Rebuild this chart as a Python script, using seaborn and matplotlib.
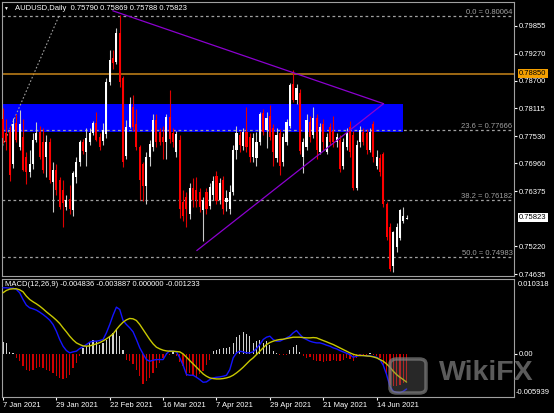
import numpy as np
import matplotlib
matplotlib.use("Agg")
import matplotlib.pyplot as plt
import matplotlib.transforms as mtransforms
from matplotlib.patches import Rectangle, FancyBboxPatch
import seaborn as sns

# ---------------- data ----------------
open_ = [0.7790, 0.7760, 0.7762, 0.7694, 0.7782, 0.7731, 0.7752, 0.7710, 0.7677, 0.7694,
         0.7746, 0.7763, 0.7740, 0.7710, 0.7742, 0.7658, 0.7683, 0.7662, 0.7640, 0.7604,
         0.7622, 0.7598, 0.7668, 0.7698, 0.7740, 0.7720, 0.7742, 0.7761, 0.7780, 0.7752,
         0.7743, 0.7757, 0.7868, 0.7918, 0.7910, 0.7970, 0.7876, 0.7712, 0.7773, 0.7815,
         0.7778, 0.7730, 0.7694, 0.7648, 0.7710, 0.7731, 0.7788, 0.7763, 0.7752, 0.7742,
         0.7794, 0.7760, 0.7719, 0.7746, 0.7615, 0.7625, 0.7590, 0.7645, 0.7640, 0.7635,
         0.7598, 0.7637, 0.7607, 0.7630, 0.7670, 0.7620, 0.7662, 0.7615, 0.7600, 0.7637,
         0.7725, 0.7756, 0.7733, 0.7762, 0.7752, 0.7710, 0.7708, 0.7740, 0.7803, 0.7767,
         0.7795, 0.7770, 0.7708, 0.7761, 0.7700, 0.7742, 0.7775, 0.7862, 0.7830, 0.7845,
         0.7710, 0.7731, 0.7784, 0.7756, 0.7792, 0.7721, 0.7778, 0.7721, 0.7773, 0.7765,
         0.7740, 0.7745, 0.7690, 0.7731, 0.7773, 0.7756, 0.7645, 0.7740, 0.7763, 0.7761,
         0.7725, 0.7778, 0.7690, 0.7708, 0.7715, 0.7610, 0.7563, 0.7480, 0.7520, 0.7540,
         0.7576, 0.75790]
high = [0.7812, 0.7790, 0.7775, 0.7792, 0.7800, 0.7809, 0.7790, 0.7720, 0.7725, 0.7761,
        0.7784, 0.7775, 0.7770, 0.7755, 0.7750, 0.7698, 0.7695, 0.7668, 0.7662, 0.7630,
        0.7650, 0.7680, 0.7710, 0.7745, 0.7748, 0.7770, 0.7770, 0.7785, 0.7805, 0.7760,
        0.7780, 0.7875, 0.7935, 0.7935, 0.7980, 0.8007, 0.7880, 0.7788, 0.7836, 0.7840,
        0.7810, 0.7735, 0.7700, 0.7720, 0.7745, 0.7800, 0.7800, 0.7770, 0.7775, 0.7800,
        0.7850, 0.7770, 0.7765, 0.7756, 0.7640, 0.7637, 0.7655, 0.7665, 0.7668, 0.7645,
        0.7625, 0.7645, 0.7655, 0.7670, 0.7680, 0.7665, 0.7670, 0.7640, 0.7650, 0.7735,
        0.7775, 0.7765, 0.7770, 0.7815, 0.7760, 0.7760, 0.7762, 0.7805, 0.7810, 0.7805,
        0.7818, 0.7778, 0.7770, 0.7768, 0.7760, 0.7790, 0.7865, 0.7893, 0.7862, 0.7852,
        0.7750, 0.7800, 0.7795, 0.7815, 0.7800, 0.7780, 0.7790, 0.7760, 0.7780, 0.7795,
        0.7760, 0.7755, 0.7750, 0.7770, 0.7785, 0.7765, 0.7745, 0.7775, 0.7770, 0.7768,
        0.7770, 0.7785, 0.7725, 0.7715, 0.7720, 0.7615, 0.7570, 0.7555, 0.7570, 0.7601,
        0.7605, 0.75869]
low = [0.7738, 0.7725, 0.7660, 0.7687, 0.7740, 0.7725, 0.7680, 0.7652, 0.7668, 0.7685,
       0.7740, 0.7705, 0.7675, 0.7668, 0.7655, 0.7593, 0.7630, 0.7600, 0.7563, 0.7599,
       0.7590, 0.7585, 0.7655, 0.7690, 0.7715, 0.7690, 0.7735, 0.7755, 0.7743, 0.7725,
       0.7735, 0.7750, 0.7860, 0.7895, 0.7905, 0.7857, 0.7689, 0.7705, 0.7770, 0.7765,
       0.7725, 0.7620, 0.7618, 0.7610, 0.7690, 0.7722, 0.7730, 0.7735, 0.7705, 0.7705,
       0.7738, 0.7730, 0.7710, 0.7582, 0.7575, 0.7563, 0.7580, 0.7605, 0.7605, 0.7593,
       0.7532, 0.7590, 0.7600, 0.7620, 0.7610, 0.7610, 0.7590, 0.7595, 0.7590, 0.7630,
       0.7705, 0.7720, 0.7725, 0.7720, 0.7700, 0.7700, 0.7690, 0.7735, 0.7755, 0.7729,
       0.7745, 0.7690, 0.7700, 0.7672, 0.7690, 0.7735, 0.7770, 0.7825, 0.7820, 0.7715,
       0.7676, 0.7725, 0.7740, 0.7750, 0.7705, 0.7715, 0.7725, 0.7715, 0.7735, 0.7730,
       0.7730, 0.7678, 0.7685, 0.7725, 0.7710, 0.7640, 0.7640, 0.7730, 0.7735, 0.7715,
       0.7720, 0.7700, 0.7685, 0.7670, 0.7605, 0.7535, 0.7470, 0.7468, 0.7510, 0.7535,
       0.7570, 0.75788]
close = [0.7750, 0.7740, 0.7672, 0.7778, 0.7746, 0.7778, 0.7683, 0.7677, 0.7694, 0.7746,
         0.7761, 0.7710, 0.7683, 0.7742, 0.7662, 0.7683, 0.7641, 0.7605, 0.7612, 0.7620,
         0.7600, 0.7675, 0.7698, 0.7740, 0.7722, 0.7750, 0.7761, 0.7780, 0.7746, 0.7731,
         0.7767, 0.7868, 0.7914, 0.7908, 0.7970, 0.7867, 0.7700, 0.7772, 0.7820, 0.7773,
         0.7730, 0.7662, 0.7648, 0.7710, 0.7736, 0.7788, 0.7742, 0.7742, 0.7742, 0.7794,
         0.7748, 0.7742, 0.7757, 0.7600, 0.7585, 0.7600, 0.7645, 0.7620, 0.7620, 0.7605,
         0.7620, 0.7600, 0.7647, 0.7660, 0.7616, 0.7654, 0.7600, 0.7624, 0.7637, 0.7725,
         0.7761, 0.7735, 0.7763, 0.7730, 0.7710, 0.7750, 0.7742, 0.7799, 0.7763, 0.7792,
         0.7752, 0.7719, 0.7756, 0.7690, 0.7752, 0.7784, 0.7860, 0.7830, 0.7855, 0.7722,
         0.7740, 0.7788, 0.7752, 0.7792, 0.7725, 0.7773, 0.7740, 0.7752, 0.7740, 0.7740,
         0.7752, 0.7685, 0.7742, 0.7761, 0.7719, 0.7645, 0.7735, 0.7767, 0.7740, 0.7725,
         0.7763, 0.7710, 0.7710, 0.7677, 0.7610, 0.7542, 0.7475, 0.7551, 0.7563, 0.7598,
         0.7586, 0.75823]

macd_line = [0.00911, 0.00911, 0.00906, 0.00906, 0.00888, 0.00842, 0.00750, 0.00672, 0.00635, 0.00621,
             0.00603, 0.00575, 0.00543, 0.00506, 0.00465, 0.00405, 0.00313, 0.00198, 0.00106, 0.00046,
             0.00014, 0.00028, 0.00037, 0.00074, 0.00097, 0.00129, 0.00161, 0.00175, 0.00175, 0.00184,
             0.00198, 0.00290, 0.00405, 0.00534, 0.00644, 0.00612, 0.00460, 0.00405, 0.00359, 0.00304,
             0.00198, 0.00083, 0.00000, -0.00078, -0.00101, -0.00087, -0.00078, -0.00078, -0.00078, 0.00000,
             0.00046, 0.00037, 0.00028, -0.00055, -0.00156, -0.00285, -0.00294, -0.00294, -0.00322, -0.00354,
             -0.00391, -0.00386, -0.00354, -0.00331, -0.00322, -0.00317, -0.00308, -0.00294, -0.00216, -0.00055,
             0.00014, 0.00037, 0.00028, 0.00014, 0.00014, 0.00028, 0.00074, 0.00129, 0.00198, 0.00230,
             0.00244, 0.00198, 0.00175, 0.00175, 0.00198, 0.00221, 0.00244, 0.00290, 0.00322, 0.00267,
             0.00221, 0.00198, 0.00175, 0.00161, 0.00152, 0.00152, 0.00138, 0.00120, 0.00106, 0.00083,
             0.00069, 0.00046, 0.00028, 0.00009, -0.00009, -0.00046, -0.00032, -0.00018, -0.00023, -0.00028,
             -0.00028, -0.00037, -0.00046, -0.00078, -0.00156, -0.00285, -0.00446, -0.00515, -0.00530, -0.00535,
             -0.00515, -0.004836]
signal_line = [0.00842, 0.00874, 0.00892, 0.00897, 0.00897, 0.00883, 0.00856, 0.00796, 0.00750, 0.00718,
               0.00690, 0.00658, 0.00621, 0.00580, 0.00543, 0.00506, 0.00465, 0.00419, 0.00359, 0.00304,
               0.00244, 0.00193, 0.00152, 0.00129, 0.00110, 0.00106, 0.00110, 0.00124, 0.00138, 0.00156,
               0.00179, 0.00207, 0.00239, 0.00276, 0.00336, 0.00391, 0.00437, 0.00469, 0.00488, 0.00483,
               0.00460, 0.00405, 0.00336, 0.00267, 0.00198, 0.00138, 0.00092, 0.00069, 0.00051, 0.00041,
               0.00037, 0.00037, 0.00032, 0.00028, 0.00000, -0.00046, -0.00092, -0.00138, -0.00184, -0.00230,
               -0.00276, -0.00308, -0.00331, -0.00340, -0.00345, -0.00345, -0.00340, -0.00331, -0.00317, -0.00294,
               -0.00262, -0.00225, -0.00184, -0.00138, -0.00092, -0.00055, -0.00009, 0.00037, 0.00083, 0.00129,
               0.00156, 0.00175, 0.00189, 0.00198, 0.00202, 0.00212, 0.00221, 0.00230, 0.00230, 0.00230,
               0.00225, 0.00221, 0.00221, 0.00225, 0.00221, 0.00202, 0.00184, 0.00166, 0.00147, 0.00129,
               0.00106, 0.00083, 0.00060, 0.00037, 0.00014, -0.00005, -0.00018, -0.00023, -0.00023, -0.00028,
               -0.00032, -0.00041, -0.00055, -0.00078, -0.00101, -0.00138, -0.00184, -0.00239, -0.00285, -0.00322,
               -0.00354, -0.003887]
histogram = [0.00166, 0.00152, 0.00028, 0.00014, -0.00055, -0.00101, -0.00170, -0.00216, -0.00239, -0.00216,
             -0.00193, -0.00184, -0.00193, -0.00216, -0.00239, -0.00262, -0.00308, -0.00331, -0.00345, -0.00331,
             -0.00285, -0.00193, -0.00124, -0.00032, 0.00083, 0.00106, 0.00152, 0.00198, 0.00175, 0.00129,
             0.00152, 0.00198, 0.00244, 0.00290, 0.00336, 0.00244, 0.00060, -0.00078, -0.00101, -0.00138,
             -0.00216, -0.00308, -0.00414, -0.00377, -0.00331, -0.00262, -0.00193, -0.00124, -0.00055, 0.00014,
             -0.00018, 0.00028, -0.00032, -0.00110, -0.00170, -0.00308, -0.00262, -0.00285, -0.00331, -0.00276,
             -0.00239, -0.00147, -0.00078, 0.00037, 0.00060, 0.00069, 0.00083, 0.00083, 0.00092, 0.00152,
             0.00230, 0.00267, 0.00304, 0.00276, 0.00244, 0.00152, 0.00175, 0.00198, 0.00152, 0.00175,
             0.00129, 0.00046, 0.00014, -0.00018, -0.00009, -0.00018, 0.00060, 0.00092, 0.00129, 0.00028,
             -0.00032, -0.00055, -0.00046, -0.00078, -0.00092, -0.00101, -0.00110, -0.00101, -0.00092, -0.00078,
             -0.00092, -0.00101, -0.00078, -0.00055, -0.00064, -0.00101, -0.00055, -0.00032, -0.00018, -0.00009,
             0.00014, -0.00018, -0.00032, -0.00055, -0.00147, -0.00285, -0.00423, -0.00446, -0.00446, -0.00423,
             -0.00400, -0.00377]

date_tick_bars = [0, 16, 32, 48, 64, 80, 96, 112]
date_tick_labels = ["7 Jan 2021", "29 Jan 2021", "22 Feb 2021", "16 Mar 2021",
                    "7 Apr 2021", "29 Apr 2021", "21 May 2021", "14 Jun 2021"]
price_ticks = [0.79855, 0.79270, 0.78700, 0.78115, 0.77530, 0.76960, 0.76375, 0.75220, 0.74635]
fib_levels = [0.80064, 0.77666, 0.76182, 0.74983]
fib_names = ["0.0", "23.6", "38.2", "50.0"]
resistance = 0.78850
last_price = 0.75823
zone_bars = [-1.0, 120.06]
zone_prices = [0.77628, 0.78216]
tri_upper_bars = [32.9, 114.1]
tri_upper_prices = [0.80169, 0.78216]
tri_lower_bars = [58.1, 114.1]
tri_lower_prices = [0.75129, 0.78216]
fib_line_bars = [-1.0, 16.8]
fib_line_prices = [0.77190, 0.80064]
macd_max, macd_min = 0.010318, -0.005939

# ---------------- style ----------------
sns.set_theme(style="dark", rc={"axes.facecolor": "black", "figure.facecolor": "black"})
plt.rcParams["font.family"] = ["Liberation Sans", "DejaVu Sans"]
FS = 5.5
GRAY = "#a0a0a0"

W, H = 554, 413
fig = plt.figure(figsize=(W / 100, H / 100), dpi=100, facecolor="black")


def fx(px):
    return px / W


def fy(py):
    return 1 - py / H


ax = fig.add_axes([fx(2), fy(276), fx(512), 274 / H])
axm = fig.add_axes([fx(2), fy(397), fx(512), 118 / H], sharex=ax)
for a in (ax, axm):
    a.set_facecolor("black")
    a.grid(False)
    for s in a.spines.values():
        s.set_color(GRAY)
        s.set_linewidth(0.8)

o = np.array(open_); h = np.array(high); l = np.array(low); c = np.array(close)
n = len(c)
x = np.arange(n)
up = c >= o

# zone, levels
ax.add_patch(Rectangle((zone_bars[0], zone_prices[0]), zone_bars[1] - zone_bars[0],
                       zone_prices[1] - zone_prices[0], facecolor="#0000ff", edgecolor="none", zorder=1))
for lv, nm in zip(fib_levels, fib_names):
    ax.axhline(lv, color=GRAY, lw=0.9, ls=(0, (2.2, 2.2)), zorder=2)
    ax.text(0.997, lv, f"{nm} = {lv:.5f}", transform=mtransforms.blended_transform_factory(ax.transAxes, ax.transData),
            ha="right", va="bottom", color=GRAY, fontsize=FS, zorder=6)
ax.plot(fib_line_bars, fib_line_prices, color=GRAY, lw=0.8, ls=(0, (1.5, 1.8)), zorder=2)
ax.axhline(resistance, color="#c8861a", lw=1.1, zorder=2)

# candles
wick_cols = np.where(up, "#c8c8c8", "#e00000")
ax.vlines(x, l, h, colors=wick_cols, lw=0.8, zorder=3)
body_h = np.maximum(np.abs(c - o), 0.00015)
ax.bar(x, body_h, bottom=np.minimum(o, c), width=0.62,
       color=np.where(up, "#ffffff", "#ff0000"), edgecolor="none", zorder=4)

# triangle
ax.plot(tri_upper_bars, tri_upper_prices, color="#8c00d0", lw=0.9, zorder=5)
ax.plot(tri_lower_bars, tri_lower_prices, color="#8c00d0", lw=0.9, zorder=5)

ax.set_xlim(-0.3, 153.2)
ax.set_ylim(0.74594, 0.80353)
ax.yaxis.tick_right()
ax.set_yticks(price_ticks)
ax.set_yticklabels([f"{p:.5f}" for p in price_ticks])
ax.tick_params(axis="y", colors="white", labelsize=FS, length=2, width=0.8, pad=1.5, right=True, left=False)
ax.tick_params(axis="x", bottom=False, labelbottom=False)

trans_r = mtransforms.blended_transform_factory(ax.transAxes, ax.transData)
ax.annotate(f"{resistance:.5f}", xy=(1, resistance), xycoords=trans_r, xytext=(5, 0),
            textcoords="offset pixels", ha="left", va="center", fontsize=FS, color="black",
            bbox=dict(boxstyle="square,pad=0.18", fc="#f5a000", ec="none"), annotation_clip=False)
ax.annotate(f"{last_price:.5f}", xy=(1, last_price), xycoords=trans_r, xytext=(5, 0),
            textcoords="offset pixels", ha="left", va="center", fontsize=FS, color="black",
            bbox=dict(boxstyle="square,pad=0.18", fc="white", ec="none"), annotation_clip=False)

# MACD panel
hist = np.array(histogram)
axm.bar(x, hist, width=0.38, color=np.where(hist >= 0, "#d0d0d0", "#d00000"), edgecolor="none", zorder=2)
sns.lineplot(x=x, y=macd_line, ax=axm, color="#1414ff", lw=1.0, legend=False, zorder=3)
sns.lineplot(x=x, y=signal_line, ax=axm, color="#c8c800", lw=1.0, legend=False, zorder=4)
axm.set_ylim(macd_min, macd_max)
axm.set_xlabel(""); axm.set_ylabel("")
axm.yaxis.tick_right()
axm.set_yticks([0.0])
axm.set_yticklabels(["0.00"])
axm.tick_params(axis="y", colors="white", labelsize=FS, length=2, width=0.8, pad=1.5, right=True, left=False)
axm.set_xticks(date_tick_bars)
axm.set_xticklabels(date_tick_labels)
axm.tick_params(axis="x", colors="white", labelsize=FS, length=2, width=0.8, pad=1.5, bottom=True)
for t in axm.get_xticklabels():
    t.set_horizontalalignment("left")
trans_m = mtransforms.blended_transform_factory(axm.transAxes, axm.transData)
axm.annotate(f"{macd_max:.6f}", xy=(1, macd_max), xycoords=trans_m, xytext=(4, -1.5),
             textcoords="offset pixels", ha="left", va="top", fontsize=FS, color="white", annotation_clip=False)
axm.annotate(f"{macd_min:.6f}", xy=(1, macd_min), xycoords=trans_m, xytext=(2, 1.5),
             textcoords="offset pixels", ha="left", va="bottom", fontsize=FS, color="white", annotation_clip=False)

# headers
fig.text(fx(3), fy(8), "\u25bc", color="white", fontsize=3.5, va="center", ha="left")
fig.text(fx(15), fy(8), "AUDUSD,Daily  0.75790 0.75869 0.75788 0.75823", color="white",
         fontsize=FS, va="center", ha="left")
fig.text(fx(5), fy(285), "MACD(12,26,9) -0.004836 -0.003887 0.000000 -0.001233", color="white",
         fontsize=FS, va="center", ha="left")

# watermark
fig.patches.append(FancyBboxPatch((fx(390), fy(393)), fx(36), 34 / H,
                                  boxstyle="round,pad=0,rounding_size=0.012", transform=fig.transFigure,
                                  facecolor=(0.45, 0.45, 0.45, 0.35), edgecolor=(0.5, 0.5, 0.5, 0.7), lw=2.5))
fig.text(fx(486), fy(380), "WikiFX", color="#7a7a7a", alpha=0.75, fontsize=20.5, fontweight="bold",
         ha="center", va="baseline")

fig.savefig("out.png", dpi=100, facecolor="black")
